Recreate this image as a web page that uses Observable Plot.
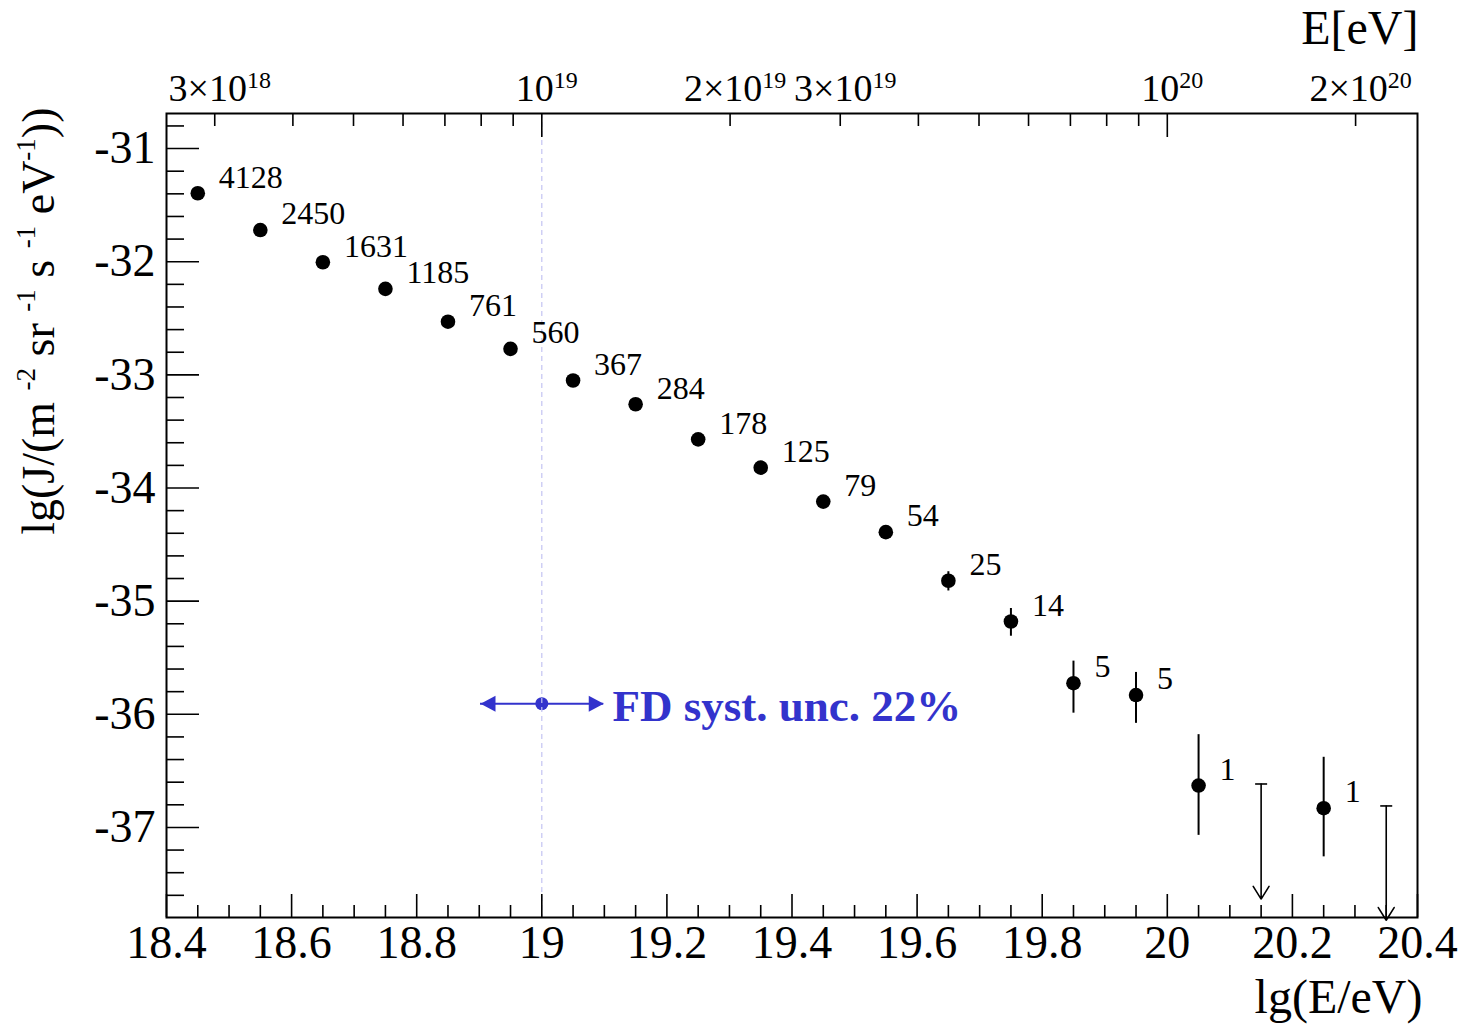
<!DOCTYPE html>
<html>
<head>
<meta charset="utf-8">
<script src="https://cdn.jsdelivr.net/npm/d3@7"></script>
<script src="https://cdn.jsdelivr.net/npm/@observablehq/plot@0.6"></script>
<style>
  body { margin: 0; background: #fff; }
  svg { display: block; }
</style>
</head>
<body>
<div id="chart"></div>
<script>
// ---- data ----
const lgE = [18.45, 18.55, 18.65, 18.75, 18.85, 18.95, 19.05, 19.15, 19.25, 19.35, 19.45, 19.55, 19.65, 19.75, 19.85, 19.95, 20.05, 20.25];
const lgJ = [-31.395, -31.72, -32.005, -32.24, -32.53, -32.77, -33.05, -33.26, -33.57, -33.82, -34.12, -34.39, -34.82, -35.18, -35.725, -35.83, -36.63, -36.83];
const lgJHi = [-31.39, -31.712, -31.997, -32.23, -32.52, -32.758, -33.036, -33.245, -33.552, -33.8, -34.095, -34.36, -34.74, -35.065, -35.53, -35.63, -36.18, -36.38];
const lgJLo = [-31.4, -31.728, -32.013, -32.25, -32.54, -32.782, -33.064, -33.275, -33.588, -33.84, -34.145, -34.42, -34.91, -35.31, -35.99, -36.08, -37.07, -37.26];
const nEvents = ["4128", "2450", "1631", "1185", "761", "560", "367", "284", "178", "125", "79", "54", "25", "14", "5", "5", "1", "1"];

// upper limits
const ulE = [20.15, 20.35];
const ulTop = [-36.616, -36.81];
const ulEnd = [-37.633, -37.82];

// FD systematic uncertainty annotation
const fdY = -35.906;
const fdLeft = 18.902;
const fdCenter = 19.0;
const fdRight = 19.099;
const fdTextX = 19.113;
const fdText = "FD syst. unc. 22%";

// axes
const xMajor = [18.4, 18.6, 18.8, 19, 19.2, 19.4, 19.6, 19.8, 20, 20.2, 20.4];
const xMinor = [18.45, 18.5, 18.55, 18.65, 18.7, 18.75, 18.85, 18.9, 18.95, 19.05, 19.1, 19.15, 19.25, 19.3, 19.35, 19.45, 19.5, 19.55, 19.65, 19.7, 19.75, 19.85, 19.9, 19.95, 20.05, 20.1, 20.15, 20.25, 20.3, 20.35];
const yMajor = [-37, -36, -35, -34, -33, -32, -31];
const yMinor = [-37.6, -37.4, -37.2, -36.8, -36.6, -36.4, -36.2, -35.8, -35.6, -35.4, -35.2, -34.8, -34.6, -34.4, -34.2, -33.8, -33.6, -33.4, -33.2, -32.8, -32.6, -32.4, -32.2, -31.8, -31.6, -31.4, -31.2, -30.8];
const topMinorE = [3e18, 4e18, 5e18, 6e18, 7e18, 8e18, 9e18, 2e19, 3e19, 4e19, 5e19, 6e19, 7e19, 8e19, 9e19, 2e20];
const topMajorE = [1e19, 1e20];
const topLabelE = [3e18, 1e19, 2e19, 3e19, 1e20, 2e20];
const topLabels = ["3×10^{18}", "10^{19}", "2×10^{19}", "3×10^{19}", "10^{20}", "2×10^{20}"];

const xTitle = "lg(E/eV)";
const topTitle = "E[eV]";
const yTitle = "lg(J/(m ^{-2} sr ^{-1} s ^{-1} eV^{-1}))";

// ---- table built from the arrays ----
const points = lgE.map((x, i) => ({x, y: lgJ[i], hi: lgJHi[i], lo: lgJLo[i], n: nEvents[i]}));
const limits = ulE.map((x, i) => ({x, top: ulTop[i], end: ulEnd[i]}));

const blue = "#3333cc";
const hbar = {draw(ctx, size) { const r = Math.sqrt(size / Math.PI); ctx.moveTo(-r, 0); ctx.lineTo(r, 0); }};
const triRight = {draw(ctx) { ctx.moveTo(0, 0); ctx.lineTo(-15, -8); ctx.lineTo(-15, 8); ctx.closePath(); }};
const triLeft = {draw(ctx) { ctx.moveTo(0, 0); ctx.lineTo(15, -8); ctx.lineTo(15, 8); ctx.closePath(); }};

const plot = Plot.plot({
  width: 1478,
  height: 1026,
  marginLeft: 166,
  marginRight: 61,
  marginTop: 113,
  marginBottom: 109,
  style: {fontFamily: '"Liberation Serif", "Times New Roman", serif', background: "#fff", color: "#000", overflow: "visible"},
  x: {domain: [18.4, 20.4], label: null},
  y: {domain: [-37.796, -30.69], label: null},
  marks: [
    // FD annotation
    Plot.ruleY([fdY], {x1: fdLeft, x2: fdRight, stroke: blue, strokeWidth: 2}),
    Plot.dot([fdCenter], {x: d => d, y: fdY, r: 6.5, fill: blue}),
    Plot.dot([fdRight], {x: d => d, y: fdY, symbol: triRight, fill: blue, r: 5}),
    Plot.dot([fdLeft], {x: d => d, y: fdY, symbol: triLeft, fill: blue, r: 5}),
    Plot.ruleX([19], {stroke: "#c4c4f2", strokeDasharray: "5,4", strokeWidth: 1.2}),
    Plot.text([fdText], {x: fdTextX, y: fdY, text: d => d, textAnchor: "start", lineAnchor: "bottom", dy: 17, fontSize: 45, fontWeight: "bold", fill: blue}),

    // axes: ticks (inward)
    Plot.axisX({anchor: "bottom", ticks: xMinor, tickSize: -12, tickFormat: () => "", strokeWidth: 1.6, label: null}),
    Plot.axisX({anchor: "bottom", ticks: xMajor, tickSize: -23, tickFormat: () => "", strokeWidth: 1.6, label: null}),
    Plot.axisX({anchor: "bottom", ticks: xMajor, tickSize: 0, tickPadding: 8, fontSize: 46, tickFormat: d => String(d), label: null}),
    Plot.axisY({anchor: "left", ticks: yMinor, tickSize: -18, tickFormat: () => "", strokeWidth: 1.6, label: null}),
    Plot.axisY({anchor: "left", ticks: yMajor, tickSize: -33, tickFormat: () => "", strokeWidth: 1.6, label: null}),
    Plot.axisY({anchor: "left", ticks: yMajor, tickSize: 0, tickPadding: 11, fontSize: 46, tickFormat: d => String(d), label: null}),
    Plot.axisX({anchor: "top", ticks: topMinorE.map(Math.log10), tickSize: -12, tickFormat: () => "", strokeWidth: 1.6, label: null}),
    Plot.axisX({anchor: "top", ticks: topMajorE.map(Math.log10), tickSize: -23, tickFormat: () => "", strokeWidth: 1.6, label: null}),
    Plot.text(topLabelE, {x: d => Math.log10(d), text: (d, i) => topLabels[i], frameAnchor: "top", lineAnchor: "bottom", dy: -13, dx: 5, fontSize: 38}),

    // titles
    Plot.text([topTitle], {frameAnchor: "top-right", text: d => d, textAnchor: "end", lineAnchor: "bottom", dx: 1, dy: -70, fontSize: 48}),
    Plot.text([xTitle], {frameAnchor: "bottom-right", text: d => d, textAnchor: "end", lineAnchor: "bottom", dx: 5, dy: 95, fontSize: 48}),
    Plot.text([yTitle], {frameAnchor: "top-left", text: d => d, rotate: -90, textAnchor: "end", lineAnchor: "bottom", dx: -113, dy: -6, fontSize: 46}),

    // data
    Plot.ruleX(points, {x: "x", y1: "lo", y2: "hi", stroke: "#000", strokeWidth: 2}),
    Plot.dot(points, {x: "x", y: "y", r: 7.3, fill: "#000"}),
    Plot.text(points, {x: "x", y: "y", text: "n", textAnchor: "start", lineAnchor: "middle", dx: 21, dy: -16, fontSize: 32}),

    // upper limits
    Plot.arrow(limits, {x1: "x", y1: "top", x2: "x", y2: "end", stroke: "#000", strokeWidth: 1.6, headLength: 14, headAngle: 64}),
    Plot.dot(limits, {x: "x", y: "top", symbol: hbar, r: 6, stroke: "#000", strokeWidth: 1.6, fill: "none"}),

    Plot.frame({stroke: "#000", strokeWidth: 2})
  ]
});

// turn "^{...}" into raised, smaller tspans
d3.select(plot).selectAll("text").each(function () {
  const txt = this.textContent;
  if (!txt.includes("^{")) return;
  const isYTitle = txt.startsWith("lg(J");
  const supSize = isYTitle ? 27 : 24;
  const raise = isYTitle ? 19 : 13;
  const el = d3.select(this);
  const parts = txt.split(/(\^\{[^}]*\})/).filter(s => s.length);
  el.text(null).style("white-space", "pre");
  let up = false;
  for (const p of parts) {
    if (p.startsWith("^{")) {
      el.append("tspan").attr("font-size", supSize).attr("dy", -raise).text(p.slice(2, -1));
      up = true;
    } else {
      const t = el.append("tspan").text(p);
      if (up) { t.attr("dy", raise); up = false; }
    }
  }
});

document.getElementById("chart").append(plot);
</script>
</body>
</html>
